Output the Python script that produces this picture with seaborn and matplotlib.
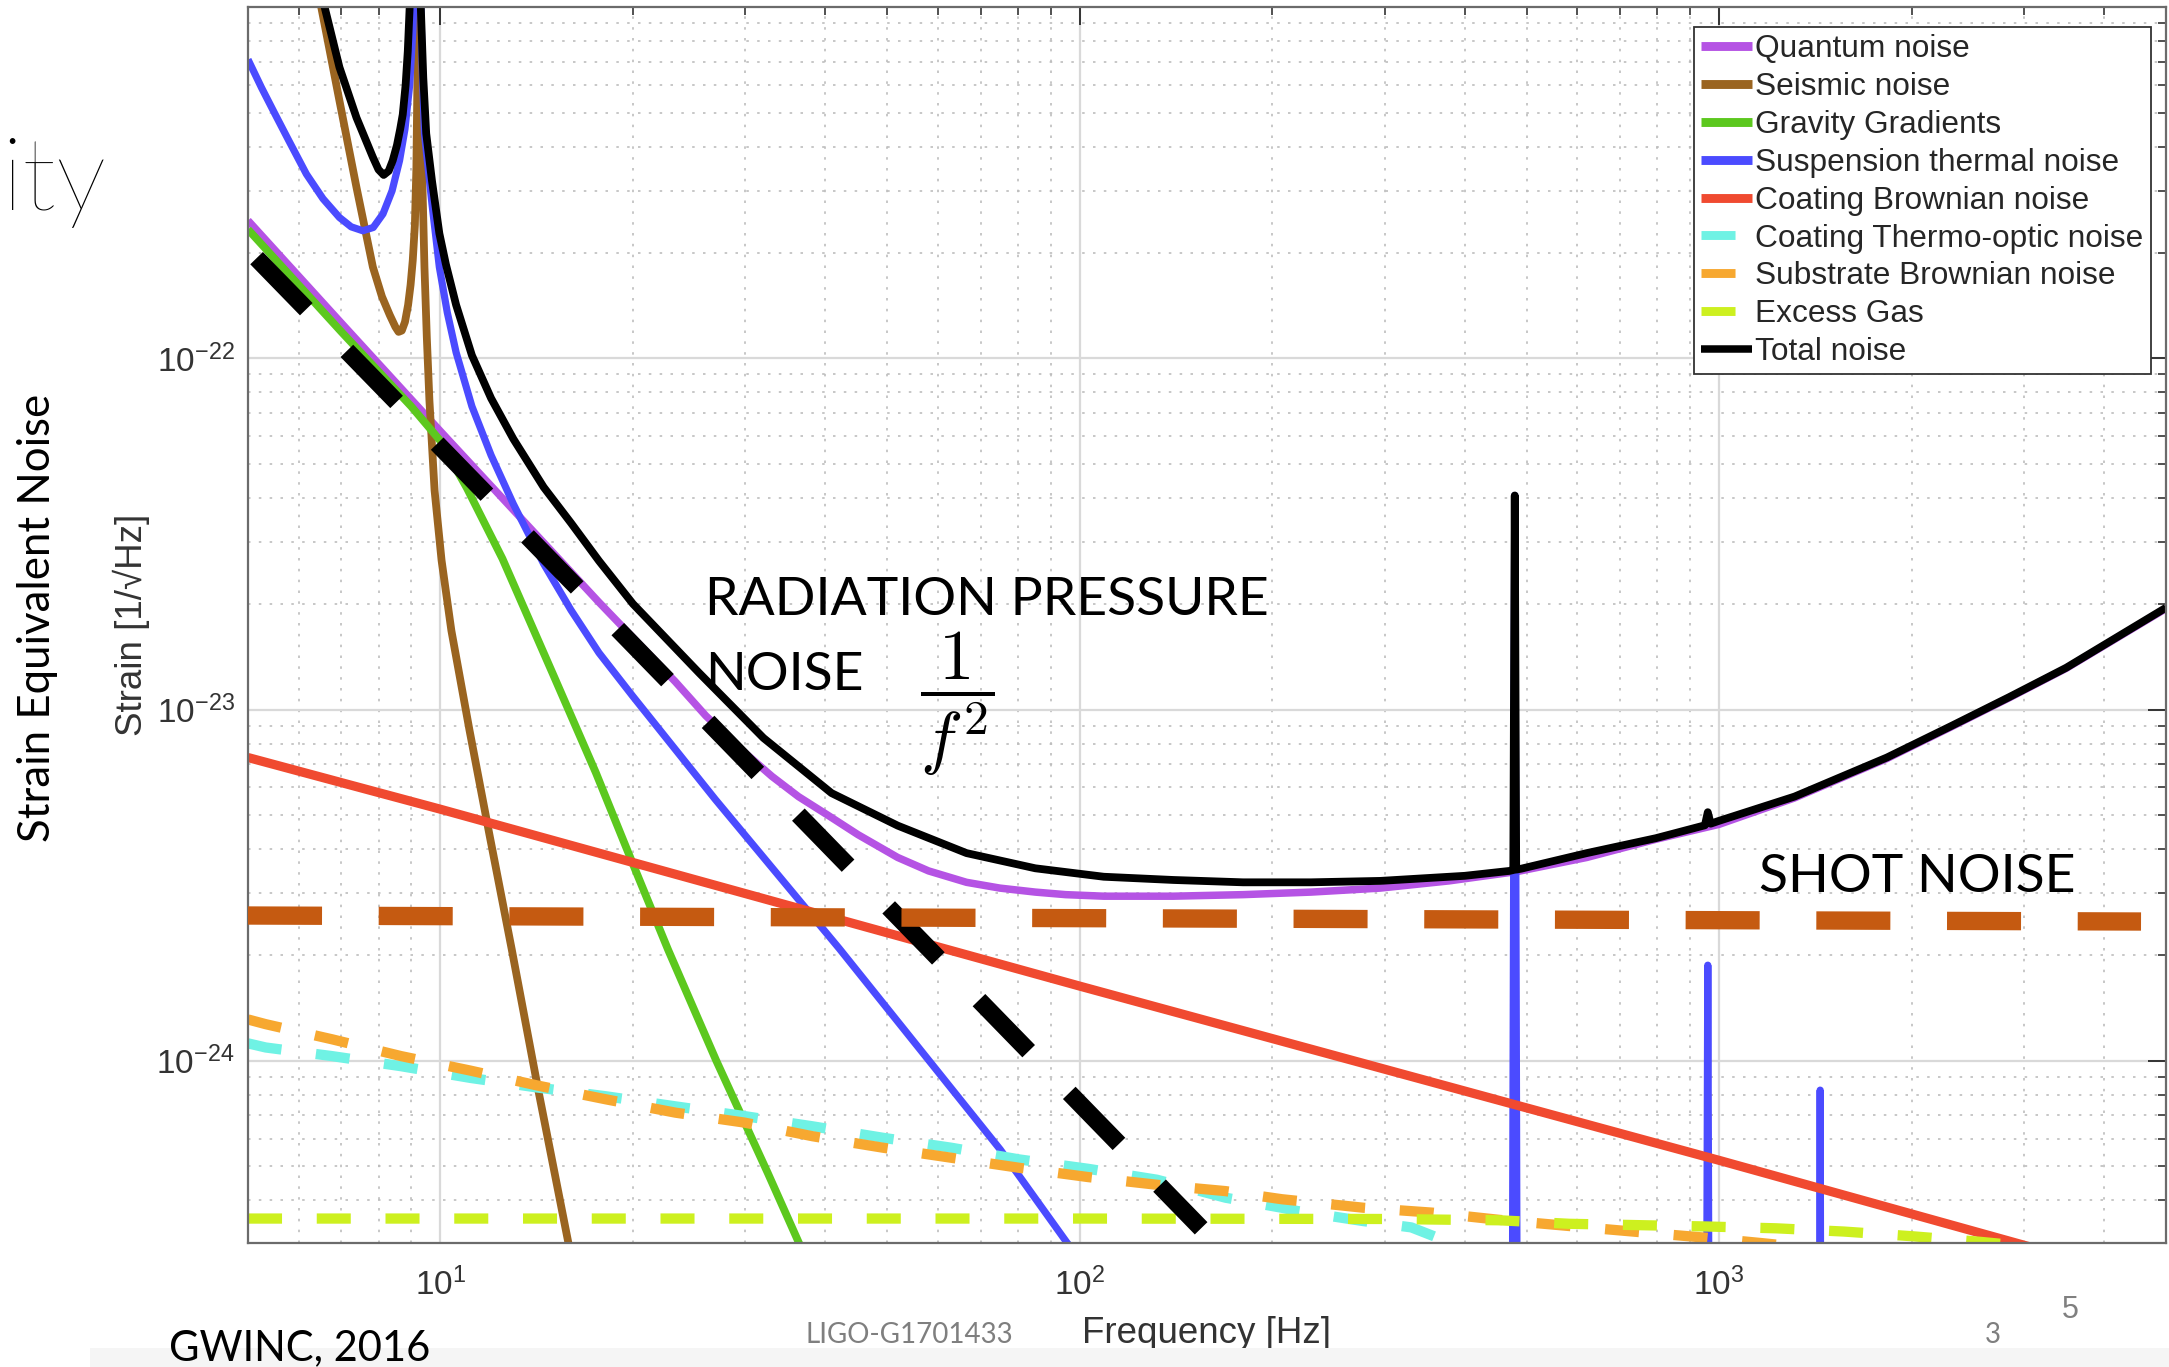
import numpy as np
import pandas as pd
import matplotlib
matplotlib.use("Agg")
import matplotlib.pyplot as plt
from matplotlib.lines import Line2D
from matplotlib.patches import Rectangle
from matplotlib.ticker import FixedLocator, FixedFormatter, LogLocator, NullFormatter
import seaborn as sns

# ---------------- noise budget data (frequency in Hz, strain in 1/sqrt(Hz)) ----------------
quantum_f = [5, 7, 10, 14, 17.7, 23.3, 26, 30, 33, 36.3, 40.5, 45, 51.9, 58, 66.5, 75, 85.2, 95,
             109, 140, 180, 230, 295, 378, 485, 621, 796, 1000, 1312, 1830, 2300, 2843, 3490, 5000]
quantum_h = [2.47e-22, 1.26e-22, 6.2e-23, 3.2e-23, 2.02e-23, 1.20e-23, 9.6e-24, 7.5e-24, 6.45e-24,
             5.65e-24, 4.98e-24, 4.4e-24, 3.79e-24, 3.47e-24, 3.22e-24, 3.1e-24, 3.02e-24, 2.97e-24,
             2.94e-24, 2.94e-24, 2.97e-24, 3.02e-24, 3.10e-24, 3.25e-24, 3.46e-24, 3.79e-24,
             4.27e-24, 4.71e-24, 5.60e-24, 7.25e-24, 8.9e-24, 1.08e-23, 1.31e-23, 1.94e-23]

seismic_f = [6.2, 6.51, 6.95, 7.39, 7.84, 8.1, 8.33, 8.5, 8.6, 8.7, 8.8, 8.9, 8.98, 9.05, 9.12,
             9.17, 9.21, 9.25, 9.29, 9.33, 9.39, 9.44, 9.52, 9.61, 9.79, 10.04, 10.40, 11.10,
             11.93, 12.93, 14.22, 15.85, 16.2]
seismic_h = [1.6e-21, 1.0e-21, 5.42e-22, 3.07e-22, 1.82e-22, 1.5e-22, 1.33e-22, 1.23e-22, 1.19e-22,
             1.2e-22, 1.27e-22, 1.42e-22, 1.62e-22, 1.9e-22, 2.4e-22, 3.5e-22, 7e-22, 3e-21, 9e-22,
             4.37e-22, 2.7e-22, 1.82e-22, 1.15e-22, 7.6e-23, 4.21e-23, 2.66e-23, 1.68e-23,
             8.75e-24, 4.4e-24, 2.07e-24, 8.26e-25, 3.03e-25, 2.46e-25]

gravity_f = [5, 7, 9, 10, 11, 12.5, 15, 17.5, 20, 22.7, 27, 32.5, 37]
gravity_h = [2.33e-22, 1.19e-22, 7.3e-23, 5.82e-23, 4.27e-23, 2.69e-23, 1.26e-23, 6.61e-24, 3.63e-24,
             2.07e-24, 1.0e-24, 4.79e-25, 2.82e-25]

suspension_f = [5.0, 5.25, 5.5, 5.8, 6.17, 6.55, 6.95, 7.25, 7.56, 7.85, 8.13, 8.4, 8.63, 8.8,
                8.95, 9.05, 9.15, 9.22, 9.3, 9.37, 9.44, 9.7, 9.96, 10.25, 10.58, 11.2, 12, 13,
                14.5, 16, 17.7, 20, 26.9, 42.1, 75.1, 95.5, 110, 150, 250, 400, 473, 479, 485,
                950, 960, 970, 1430, 1439, 1448, 5000]
suspension_h = [7.1e-22, 5.9e-22, 5.0e-22, 4.15e-22, 3.35e-22, 2.85e-22, 2.52e-22, 2.37e-22,
                2.31e-22, 2.36e-22, 2.58e-22, 3.0e-22, 3.66e-22, 4.5e-22, 6.0e-22, 8.5e-22,
                1.5e-21, 3e-21, 1.2e-21, 6.5e-22, 4.37e-22, 2.75e-22, 1.82e-22, 1.35e-22,
                1.04e-22, 7.3e-23, 5.3e-23, 3.85e-23, 2.6e-23, 1.92e-23, 1.45e-23, 1.09e-23,
                5.55e-24, 2.08e-24, 5.58e-25, 3.03e-25, 2.2e-25, 1.1e-25, 4.5e-26, 2e-26, 1.5e-26,
                4.07e-23, 1.5e-26, 5e-27, 1.87e-24, 5e-27, 2.5e-27, 8.24e-25, 2.5e-27, 5e-28]

coating_brown_f = [5, 10, 100, 1000, 5000]
coating_brown_h = [7.3e-24, 5.2e-24, 1.63e-24, 5.2e-25, 2.3e-25]

coating_to_f = [5, 5.33, 6.77, 8.68, 11.13, 14.2, 18.2, 23.3, 29.9, 38.2, 49.2, 62.9, 80.5, 103, 132,
                169, 207, 219, 278, 330, 380, 420]
coating_to_h = [1.12e-24, 1.09e-24, 1.03e-24, 9.64e-25, 8.93e-25, 8.38e-25, 7.91e-25, 7.41e-25,
                6.95e-25, 6.50e-25, 6.03e-25, 5.65e-25, 5.23e-25, 4.92e-25, 4.58e-25, 4.07e-25,
                3.81e-25, 3.73e-25, 3.49e-25, 3.35e-25, 3.03e-25, 2.8e-25]

substrate_f = [5, 5.33, 6.77, 8.68, 11.13, 14.2, 18.2, 23.3, 29.9, 38.2, 49.2, 62.9, 80.5, 103, 132,
               169, 207, 278, 356, 453, 583, 747, 955, 1170, 1400]
substrate_h = [1.31e-24, 1.27e-24, 1.15e-24, 1.03e-24, 9.37e-25, 8.49e-25, 7.75e-25, 7.11e-25,
               6.66e-25, 6.09e-25, 5.65e-25, 5.29e-25, 4.95e-25, 4.66e-25, 4.43e-25, 4.25e-25,
               4.03e-25, 3.81e-25, 3.69e-25, 3.52e-25, 3.38e-25, 3.25e-25, 3.13e-25, 3.02e-25, 2.92e-25]

gas_f = [5, 100, 300, 453, 583, 747, 955, 1228, 1567, 2009, 2549, 3200]
gas_h = [3.55e-25, 3.55e-25, 3.54e-25, 3.51e-25, 3.43e-25, 3.40e-25, 3.37e-25, 3.33e-25, 3.26e-25,
         3.16e-25, 3.05e-25, 2.93e-25]

total_f = [6.3, 6.59, 6.95, 7.39, 7.84, 8.0, 8.15, 8.3, 8.42, 8.55, 8.65, 8.73, 8.82, 8.89, 8.97,
           9.1, 9.2, 9.3, 9.4, 9.5, 9.7, 9.96, 10.2, 10.58, 11.2, 12, 13, 14.5, 16, 17.7, 20, 25.4,
           32, 40.9, 51.9, 66.5, 85.2, 109, 140, 180, 230, 295, 400, 470, 476.5, 479, 481.5, 490,
           621, 796, 950, 960, 970, 1000, 1312, 1830, 2300, 2843, 3490, 5000]
total_h = [1.5e-21, 1.0e-21, 6.75e-22, 4.85e-22, 3.74e-22, 3.45e-22, 3.33e-22, 3.42e-22, 3.66e-22,
           4.05e-22, 4.5e-22, 4.95e-22, 6.0e-22, 7.5e-22, 1.1e-21, 2.2e-21, 3e-21, 1.1e-21,
           6.3e-22, 4.37e-22, 3.2e-22, 2.27e-22, 1.85e-22, 1.42e-22, 1.02e-22, 7.7e-23, 5.9e-23,
           4.3e-23, 3.4e-23, 2.65e-23, 2.0e-23, 1.27e-23, 8.3e-24, 5.78e-24, 4.67e-24, 3.90e-24,
           3.53e-24, 3.34e-24, 3.27e-24, 3.22e-24, 3.22e-24, 3.25e-24, 3.36e-24, 3.47e-24,
           3.49e-24, 4.07e-23, 3.5e-24, 3.52e-24, 3.9e-24, 4.30e-24, 4.68e-24, 5.1e-24, 4.73e-24,
           4.82e-24, 5.65e-24, 7.3e-24, 8.95e-24, 1.085e-23, 1.315e-23, 1.95e-23]

# hand-drawn guide lines
rad_pressure_f = [5.157, 154.8]
rad_pressure_h = [1.93e-22, 3.33e-25]
shot_f = [5.0, 4570]
shot_h = [2.59e-24, 2.49e-24]

series_names = ["Quantum noise", "Seismic noise", "Gravity Gradients", "Suspension thermal noise",
                "Coating Brownian noise", "Coating Thermo-optic noise", "Substrate Brownian noise",
                "Excess Gas", "Total noise"]
series_colors = ["#B553E4", "#9A6420", "#5CC81E", "#4B4BFF", "#F04A30", "#6FF2E4", "#F7A830",
                 "#CDF01F", "#000000"]
series_dashed = [False, False, False, False, False, True, True, True, False]

x_tick_values = [10, 100, 1000]
x_tick_labels = ["10^{1}", "10^{2}", "10^{3}"]
y_tick_values = [1e-24, 1e-23, 1e-22]
y_tick_labels = ["10^{-24}", "10^{-23}", "10^{-22}"]

# ---------------- figure ----------------
sns.set_theme(style="white")
plt.rcParams["font.family"] = ["Liberation Sans", "DejaVu Sans"]
plt.rcParams["lines.scale_dashes"] = False
plt.rcParams["lines.solid_capstyle"] = "butt"

W, H = 2169, 1367
fig = plt.figure(figsize=(W / 100, H / 100), dpi=100)
fig.patch.set_facecolor("white")


def P(x, y):
    return x / W, 1 - y / H


ax = fig.add_axes([248 / W, 1 - 1242.7 / H, (2166 - 248) / W, 1235.4 / H])
ax.set_xscale("log")
ax.set_yscale("log")

curves = [
    (quantum_f, quantum_h, 5.4),
    (seismic_f, seismic_h, 5.6),
    (gravity_f, gravity_h, 5.6),
    (suspension_f, suspension_h, 5.2),
    (coating_brown_f, coating_brown_h, 6.6),
    (coating_to_f, coating_to_h, 7.4),
    (substrate_f, substrate_h, 7.4),
    (gas_f, gas_h, 7.4),
    (total_f, total_h, 5.6),
]
gas_dash = (0, (24.5, 25.0))
for (f, h, lw), color, dashed in zip(curves, series_colors, series_dashed):
    df = pd.DataFrame({"f": f, "h": h})
    sns.lineplot(data=df, x="f", y="h", ax=ax, color=color, linewidth=lw,
                 linestyle=gas_dash if dashed else "-", sort=False, estimator=None,
                 solid_joinstyle="round", zorder=2)

# guide lines for the two quantum-noise regimes
sns.lineplot(data=pd.DataFrame({"f": rad_pressure_f, "h": rad_pressure_h}), x="f", y="h", ax=ax,
             color="black", linewidth=12.7, linestyle=(0, (51.3, 41.9)), sort=False,
             estimator=None, zorder=3)
sns.lineplot(data=pd.DataFrame({"f": shot_f, "h": shot_h}), x="f", y="h", ax=ax,
             color="#C55A11", linewidth=13.2, linestyle=(0, (53.3, 40.8)), sort=False,
             estimator=None, zorder=3)

ax.set_xlim(5, 5000)
ax.set_ylim(3.03e-25, 1e-21)

ax.xaxis.set_major_locator(FixedLocator(x_tick_values))
ax.xaxis.set_major_formatter(FixedFormatter([r"$\mathregular{%s}$" % s for s in x_tick_labels]))
ax.yaxis.set_major_locator(FixedLocator(y_tick_values))
ax.yaxis.set_major_formatter(FixedFormatter([r"$\mathregular{%s}$" % s for s in y_tick_labels]))
for axis in (ax.xaxis, ax.yaxis):
    axis.set_minor_locator(LogLocator(base=10, subs=np.arange(2, 10), numticks=20))
    axis.set_minor_formatter(NullFormatter())

ax.tick_params(which="both", direction="in", top=True, right=True, color="#333333",
               labelcolor="#333333", labelsize=24)
ax.tick_params(which="major", length=13, width=1.4)
ax.tick_params(which="minor", length=5.8, width=1.2)
ax.tick_params(axis="x", which="major", pad=18)
ax.tick_params(axis="y", which="major", pad=9.5)

ax.grid(True, which="major", color="#d9d9d9", linewidth=1.6, linestyle="-")
ax.grid(True, which="minor", color="#bdbdbd", linewidth=1.2, linestyle=(0, (1.8, 6.0)))
ax.set_axisbelow(True)
for s in ax.spines.values():
    s.set_color("#6b6b6b")
    s.set_linewidth(1.6)
    s.set_visible(True)

ax.set_xlabel("Frequency [Hz]", fontsize=26.5, color="#333333")
ax.xaxis.set_label_coords(0.5, -0.0593)
ax.set_ylabel("Strain [1/\u221aHz]", fontsize=26.5, color="#333333")
ax.yaxis.set_label_coords(-0.0511, 0.5)

# legend
handles = []
for name, color, dashed in zip(series_names, series_colors, series_dashed):
    lw = 5.4 if color == "#000000" else 6.4
    if dashed:
        handles.append(Line2D([], [], color=color, linewidth=lw, linestyle=(0, (24.5, 300))))
    else:
        handles.append(Line2D([], [], color=color, linewidth=lw))
leg = ax.legend(handles, series_names, loc="upper right", bbox_to_anchor=P(2150.7, 27),
                bbox_transform=fig.transFigure, fontsize=22.8, frameon=True, fancybox=False,
                framealpha=1, edgecolor="#333333", borderpad=0.22, labelspacing=0.25,
                handlelength=1.61, handletextpad=0.12, borderaxespad=0)
for t in leg.get_texts():
    t.set_color("#262626")
leg.get_frame().set_linewidth(1.3)
leg.set_zorder(5)

# slide annotations
slide_font = ["Lato", "DejaVu Sans"]
fig.text(*P(705, 615), "RADIATION PRESSURE", fontsize=38.5, family=slide_font, ha="left",
         va="baseline", color="black", zorder=6)
fig.text(*P(705, 690), "NOISE", fontsize=38.5, family=slide_font, ha="left", va="baseline",
         color="black", zorder=6)
fig.text(*P(957, 704), r"$\dfrac{1}{f^2}$", fontsize=51, math_fontfamily="cm", ha="center",
         va="center", color="black", zorder=6)
fig.text(*P(1759, 891.7), "SHOT NOISE", fontsize=38.5, family=slide_font, ha="left",
         va="baseline", color="black", zorder=6)
fig.text(*P(50, 617.5), "Strain Equivalent Noise", fontsize=31.5, family=slide_font, rotation=90,
         rotation_mode="anchor", ha="center", va="baseline", color="black")
fig.text(*P(1, 210), "ity", fontsize=74, family=slide_font, fontweight="light", ha="left",
         va="baseline", color="black")

fig.patches.append(Rectangle((90 / W, 0), 1 - 90 / W, (H - 1348) / H, transform=fig.transFigure,
                             facecolor="#f5f5f5", edgecolor="none", zorder=0))
fig.text(*P(169, 1360), "GWINC, 2016", fontsize=30, family=slide_font, ha="left", va="baseline",
         color="black", zorder=6)
fig.text(*P(806, 1343), "LIGO-G1701433", fontsize=20, family=slide_font, ha="left",
         va="baseline", color="#7f7f7f", zorder=6)
fig.text(*P(1985, 1343), "3", fontsize=20, family=slide_font, ha="left", va="baseline",
         color="#7f7f7f", zorder=6)
fig.text(*P(2062, 1318), "5", fontsize=22, ha="left", va="baseline", color="#808080", zorder=6)

fig.savefig("out.png", dpi=100, facecolor="white")
